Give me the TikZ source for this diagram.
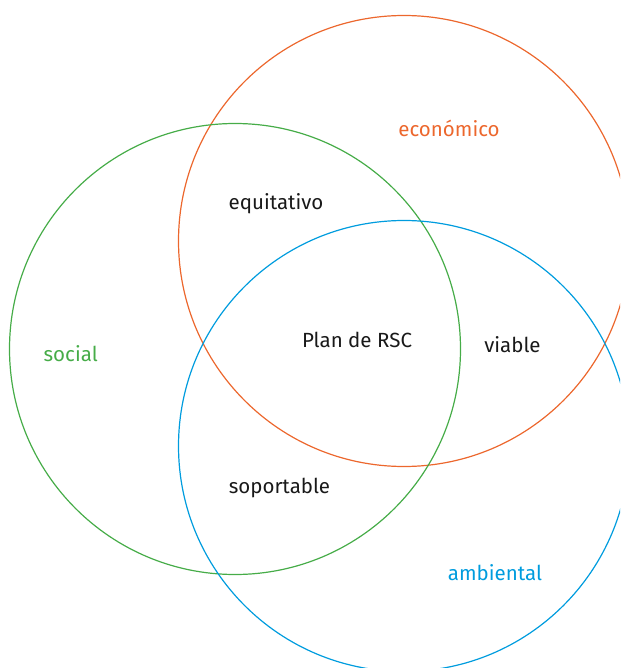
\documentclass[tikz,border=0pt]{standalone}
\usepackage{fontspec}
\setmainfont{Fira Sans}
\definecolor{eco}{RGB}{236,103,45}
\definecolor{soc}{RGB}{70,172,72}
\definecolor{amb}{RGB}{0,156,222}
\definecolor{txt}{RGB}{25,25,25}
\begin{document}
\begin{tikzpicture}[x=1pt,y=-1pt,
  ring/.style={line width=1.2pt},
  lab/.style={anchor=base,inner sep=0pt,font=\fontsize{20.5}{22}\selectfont}]
\useasboundingbox (0,0) rectangle (620,668);
\clip (0,0) rectangle (620,668);
\draw[ring,eco] (404,241) circle[radius=225.5];
\draw[ring,soc] (235,349) circle[radius=225.5];
\draw[ring,amb] (404,446) circle[radius=225.5];
\node[lab,text=eco] (economico) at (449,137) {económico};
\node[lab,text=txt] (equitativo) at (276,209) {equitativo};
\node[lab,text=txt] (plan) at (357,347) {Plan de RSC};
\node[lab,text=txt] (viable) at (512.5,352) {viable};
\node[lab,text=soc] (social) at (70.7,361.7) {social};
\node[lab,text=txt] (soportable) at (279.5,493) {soportable};
\node[lab,text=amb] (ambiental) at (495,580.6) {ambiental};
\end{tikzpicture}
\end{document}
